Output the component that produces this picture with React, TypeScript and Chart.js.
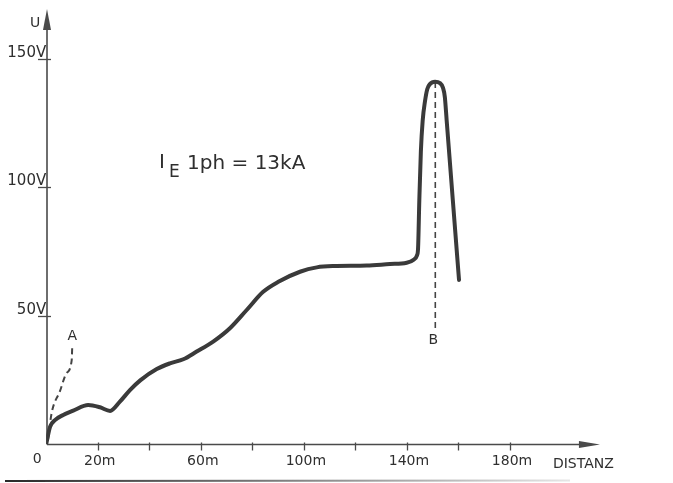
import React, { useEffect, useRef } from "react";
import { Chart, registerables } from "chart.js";

Chart.register(...registerables);

// Main curve: distance (m) and voltage (V)
const distM = [0, 1.5, 3.4, 6.6, 10.5, 16.3, 20.9, 24.8, 28.6, 32.5, 36.5, 42.9, 48.0, 53.2, 58.4, 64.8, 71.3, 77.8, 84.2, 90.1, 98.5, 105.0, 111.4, 124.4, 133.4, 139.9, 142.6, 143.9, 144.3, 144.8, 145.4, 146.1, 147.0, 147.9, 148.9, 150.9, 152.8, 154.0, 154.7, 155.4, 156.0, 157.8, 160.2];
const voltV = [0, 6.7, 9.3, 11.3, 13.0, 15.2, 14.3, 12.9, 16.5, 21.0, 24.8, 29.2, 31.4, 33.0, 36.0, 39.9, 45.1, 52.2, 59.3, 63.2, 67.1, 68.8, 69.3, 69.5, 70.1, 70.6, 71.8, 73.5, 76.0, 95.0, 114.0, 126.0, 133.5, 138.3, 140.2, 141.1, 140.6, 138.7, 135.2, 126.2, 118.4, 95.0, 63.9];

// Dashed line A
const aDist = [0.7, 2.1, 5.3, 7.9, 9.9, 10.1];
const aVolt = [1.6, 12.0, 20.5, 27.6, 32.7, 37.9];

// Dashed line B
const bDist = [151.0, 151.0];
const bVolt = [141.0, 44.4];

// Axis ticks
const xTickMarks = [20, 40, 60, 80, 100, 120, 140, 160, 180];
const xTickLabels = [
  { v: 20, t: "20m" },
  { v: 60, t: "60m" },
  { v: 100, t: "100m" },
  { v: 140, t: "140m" },
  { v: 180, t: "180m" },
];
const yTickValues = [50, 100, 150];
const yTickLabels = ["50V", "100V", "150V"];

const X_MAX = 220;
const Y_MAX = 170;
const X_ARROW_TIP = 214.9;
const Y_ARROW_TIP = 169.5;

const INK = "#2f2f2f";
const FONT = '"DejaVu Sans", sans-serif';

const toXY = (xs: number[], ys: number[]) => xs.map((x, i) => ({ x, y: ys[i] }));

const axesPlugin = {
  id: "sketchAxes",
  beforeDatasetsDraw(chart: any) {
    const ctx = chart.ctx;
    const xs = chart.scales.x;
    const ys = chart.scales.y;
    const ox = xs.getPixelForValue(0) + 0.8;
    const oy = ys.getPixelForValue(0) + 0.5;
    ctx.save();
    ctx.strokeStyle = "#4a4a4a";
    ctx.fillStyle = "#4a4a4a";
    ctx.lineWidth = 1.6;
    // y axis
    const yTip = ys.getPixelForValue(Y_ARROW_TIP);
    ctx.beginPath();
    ctx.moveTo(ox, oy);
    ctx.lineTo(ox, yTip + 10);
    ctx.stroke();
    ctx.beginPath();
    ctx.moveTo(ox, yTip);
    ctx.lineTo(ox - 4, yTip + 21);
    ctx.lineTo(ox + 4, yTip + 21);
    ctx.closePath();
    ctx.fill();
    // x axis
    const xTip = xs.getPixelForValue(X_ARROW_TIP);
    ctx.beginPath();
    ctx.moveTo(ox, oy);
    ctx.lineTo(xTip - 10, oy);
    ctx.stroke();
    ctx.beginPath();
    ctx.moveTo(xTip, oy);
    ctx.lineTo(xTip - 21, oy - 3.5);
    ctx.lineTo(xTip - 21, oy + 3.5);
    ctx.closePath();
    ctx.fill();
    // x ticks
    ctx.lineWidth = 1.3;
    xTickMarks.forEach((v) => {
      const px = Math.round(xs.getPixelForValue(v)) + 0.5;
      ctx.beginPath();
      ctx.moveTo(px, oy - 2);
      ctx.lineTo(px, oy + 6);
      ctx.stroke();
    });
    // y ticks
    yTickValues.forEach((v) => {
      const py = Math.round(ys.getPixelForValue(v)) + 0.5;
      ctx.beginPath();
      ctx.moveTo(ox - 9, py);
      ctx.lineTo(ox + 4, py);
      ctx.stroke();
    });
    // bottom border line from the scan
    const g = ctx.createLinearGradient(5, 0, 570, 0);
    g.addColorStop(0, "#2a2a2a");
    g.addColorStop(0.45, "#777");
    g.addColorStop(1, "#e6e6e6");
    ctx.strokeStyle = g;
    ctx.lineWidth = 2;
    ctx.beginPath();
    ctx.moveTo(5, chart.height - 2);
    ctx.lineTo(570, chart.height - 2.5);
    ctx.stroke();
    ctx.restore();
  },
  afterDatasetsDraw(chart: any) {
    const ctx = chart.ctx;
    const xs = chart.scales.x;
    const ys = chart.scales.y;
    const ox = xs.getPixelForValue(0);
    const oy = ys.getPixelForValue(0);
    ctx.save();
    ctx.fillStyle = INK;
    ctx.textBaseline = "alphabetic";
    // y labels
    ctx.font = `15px ${FONT}`;
    ctx.textAlign = "right";
    yTickValues.forEach((v, i) => {
      ctx.fillText(yTickLabels[i], ox, ys.getPixelForValue(v) - 2);
    });
    // U
    ctx.font = `14px ${FONT}`;
    ctx.textAlign = "center";
    ctx.fillText("U", ox - 11, ys.getPixelForValue(Y_ARROW_TIP) + 18);
    // x labels
    ctx.font = `14px ${FONT}`;
    ctx.textAlign = "center";
    ctx.fillText("0", ox - 9, oy + 19);
    xTickLabels.forEach((l) => {
      ctx.fillText(l.t, xs.getPixelForValue(l.v) + 2, oy + 21);
    });
    ctx.textAlign = "left";
    ctx.fillText("DISTANZ", xs.getPixelForValue(X_ARROW_TIP) - 47, oy + 24);
    // A / B labels
    ctx.font = `14px ${FONT}`;
    ctx.textAlign = "center";
    ctx.textBaseline = "middle";
    ctx.fillText("A", xs.getPixelForValue(aDist[aDist.length - 1]), ys.getPixelForValue(aVolt[aVolt.length - 1]) - 10);
    ctx.fillText("B", xs.getPixelForValue(bDist[1]) - 2, ys.getPixelForValue(bVolt[1]) + 10);
    // formula text
    ctx.textBaseline = "alphabetic";
    ctx.textAlign = "left";
    const tx = xs.getPixelForValue(43.8);
    const ty = ys.getPixelForValue(107.5);
    ctx.font = `20px ${FONT}`;
    ctx.fillText("I", tx, ty);
    ctx.font = `17px ${FONT}`;
    ctx.fillText("E", tx + 10, ty + 9);
    ctx.font = `20px ${FONT}`;
    ctx.fillText("1ph = 13kA", tx + 28, ty + 1);
    ctx.restore();
  },
};

export default function App() {
  const ref = useRef<HTMLCanvasElement | null>(null);
  useEffect(() => {
    if (!ref.current) return;
    const chart = new Chart(ref.current, {
      type: "line",
      data: {
        datasets: [
          {
            data: toXY(distM, voltV),
            borderColor: "#3a3a3a",
            borderWidth: 4,
            pointRadius: 0,
            cubicInterpolationMode: "monotone",
            borderCapStyle: "round",
            borderJoinStyle: "round",
            fill: false,
          },
          {
            data: toXY(aDist, aVolt),
            borderColor: "#444",
            borderWidth: 2,
            borderDash: [6, 4],
            pointRadius: 0,
            cubicInterpolationMode: "monotone",
            fill: false,
          },
          {
            data: toXY(bDist, bVolt),
            borderColor: "#444",
            borderWidth: 1.6,
            borderDash: [6, 4],
            pointRadius: 0,
            fill: false,
          },
        ],
      },
      options: {
        animation: false,
        responsive: false,
        devicePixelRatio: 1,
        layout: { padding: { left: 46.2, right: 59.9, top: 7.6, bottom: 39 } },
        plugins: { legend: { display: false }, tooltip: { enabled: false }, title: { display: false } },
        scales: {
          x: { type: "linear", min: 0, max: X_MAX, display: false },
          y: { type: "linear", min: 0, max: Y_MAX, display: false },
        },
        events: [],
      },
      plugins: [axesPlugin],
    } as any);
    return () => chart.destroy();
  }, []);
  return (
    <div style={{ position: "fixed", left: 0, top: 0, width: 673, height: 483, background: "#fff" }}>
      <canvas ref={ref} width={673} height={483} style={{ display: "block" }} />
    </div>
  );
}
